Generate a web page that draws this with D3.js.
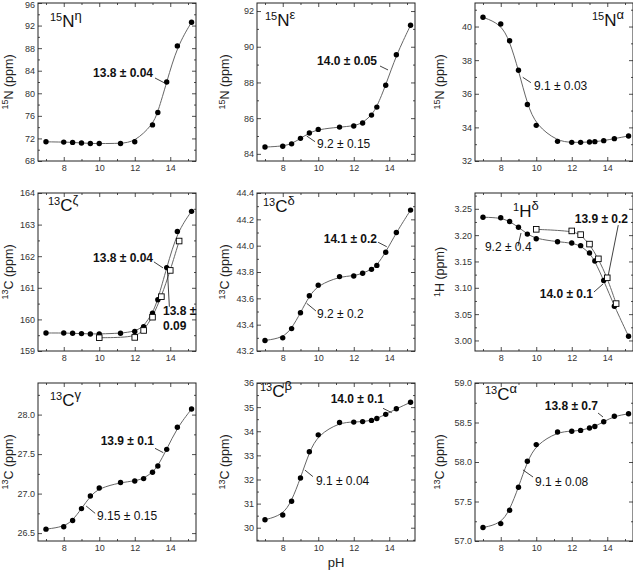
<!DOCTYPE html>
<html><head><meta charset="utf-8">
<script src="https://cdn.jsdelivr.net/npm/d3@7"></script>
<style>body{margin:0;background:#fff} svg{display:block} text{font-family:"Liberation Sans",Arial,sans-serif}</style>
</head><body>
<svg id="c" width="633" height="570"></svg>
<script>
// ---------- data ----------
const pH       = [7, 8, 8.5, 9, 9.5, 10, 11.2, 12, 12.5, 13, 13.3, 13.8, 14.4, 15.2];
const pH_Neta  = [7, 8, 8.5, 9, 9.5, 10, 11.2, 12, 13, 13.3, 13.8, 14.4, 15.2];
const pH_open  = [10, 12, 12.5, 13, 13.5, 14, 14.5];

const N_eta   = [71.4, 71.35, 71.3, 71.2, 71.1, 71.1, 71.1, 71.4, 74.4, 76.6, 82.0, 88.4, 92.6];
const N_eps   = [84.38, 84.43, 84.56, 84.87, 85.17, 85.37, 85.5, 85.56, 85.73, 86.17, 86.62, 87.84, 89.55, 91.2];
const N_alpha = [40.55, 40.15, 39.15, 37.4, 35.36, 34.12, 33.17, 33.11, 33.11, 33.13, 33.15, 33.21, 33.33, 33.49];
const C_zeta      = [159.57, 159.57, 159.56, 159.55, 159.54, 159.54, 159.56, 159.62, 159.77, 160.2, 160.62, 161.64, 162.78, 163.42];
const C_zeta_open = [159.42, 159.43, 159.65, 160.07, 160.72, 161.55, 162.48];
const C_delta = [43.28, 43.30, 43.37, 43.49, 43.62, 43.70, 43.765, 43.77, 43.79, 43.82, 43.85, 43.95, 44.10, 44.27];
const H_delta      = [3.234, 3.233, 3.226, 3.215, 3.202, 3.193, 3.1875, 3.185, 3.180, 3.166, 3.151, 3.114, 3.065, 3.008];
const H_delta_open = [3.211, 3.208, 3.201, 3.183, 3.155, 3.119, 3.070];
const C_gamma = [26.55, 26.58, 26.66, 26.81, 26.97, 27.07, 27.14, 27.16, 27.19, 27.27, 27.35, 27.56, 27.84, 28.07];
const C_beta  = [30.33, 30.53, 31.1, 32.06, 33.15, 33.85, 34.36, 34.38, 34.4, 34.45, 34.53, 34.7, 34.93, 35.2];
const C_alpha = [57.17, 57.22, 57.39, 57.68, 58.01, 58.22, 58.38, 58.39, 58.40, 58.43, 58.45, 58.51, 58.58, 58.61];

// ---------- ticks ----------
const xTicks = [8, 10, 12, 14];
const yTicks_N_eta   = [68, 72, 76, 80, 84, 88, 92, 96];
const yTicks_N_eps   = [84, 86, 88, 90, 92];
const yTicks_N_alpha = [32, 34, 36, 38, 40];
const yTicks_C_zeta  = [159, 160, 161, 162, 163, 164];
const yTicks_C_delta = [43.2, 43.4, 43.6, 43.8, 44.0, 44.2, 44.4];
const yTicks_H_delta = [3.00, 3.05, 3.10, 3.15, 3.20, 3.25];
const yTicks_C_gamma = [26.5, 27.0, 27.5, 28.0];
const yTicks_C_beta  = [30, 31, 32, 33, 34, 35, 36];
const yTicks_C_alpha = [57.0, 57.5, 58.0, 58.5, 59.0];

// ---------- panels ----------
const panels = [
  {title:["15","N","η"], tpos:[12,24], ylab:["15","N (ppm)"], xs:pH_Neta, ys:N_eta, dom:[68,96], ticks:yTicks_N_eta, fmt:"d",
   ann:[{t:["13.8 ± 0.04"], b:true, a:"end", at:[13.03,82.89], l:[[13.14,82.71],[13.65,81.88]]}]},
  {title:["15","N","ε"], tpos:[8,23], ylab:["15","N (ppm)"], xs:pH, ys:N_eps, dom:[83.6,92.45], ticks:yTicks_N_eps, fmt:"d",
   ann:[{t:["14.0 ± 0.05"], b:true, a:"end", at:[13.31,88.98], l:[[13.48,88.92],[13.93,88.70]]},
        {t:["9.2 ± 0.15"], b:false, a:"start", at:[9.93,84.33], l:[[9.82,84.68],[9.35,85.0]]}]},
  {title:["15","N","α"], tpos:[117,23], ylab:["15","N (ppm)"], xs:pH, ys:N_alpha, dom:[32,41.4], ticks:yTicks_N_alpha, fmt:"d",
   ann:[{t:["9.1 ± 0.03"], b:false, a:"start", at:[9.87,36.22], l:[[9.70,36.66],[9.24,36.98]]}]},
  {title:["13","C","ζ"], tpos:[10,18], ylab:["13","C (ppm)"], xs:pH, ys:C_zeta, oxs:pH_open, oys:C_zeta_open, dom:[159,164], ticks:yTicks_C_zeta, fmt:"d",
   ann:[{t:["13.8 ± 0.04"], b:true, a:"end", at:[13.03,161.82], l:[[13.08,161.82],[13.59,161.63]]},
        {t:["13.8 ±","0.09"], b:true, a:"start", at:[13.59,160.14], l:[[13.85,161.45],[13.95,160.4]]}]},
  {title:["13","C","δ"], tpos:[6,19], ylab:["13","C (ppm)"], xs:pH, ys:C_delta, dom:[43.2,44.4], ticks:yTicks_C_delta, fmt:".1f",
   ann:[{t:["14.1 ± 0.2"], b:true, a:"end", at:[13.31,44.023], l:[[13.37,44.026],[13.86,43.992]]},
        {t:["9.2 ± 0.2"], b:false, a:"start", at:[9.93,43.448], l:[[9.87,43.504],[9.35,43.562]]}]},
  {title:["1","H","δ"], tpos:[38,24], ylab:["1","H (ppm)"], xs:pH, ys:H_delta, oxs:pH_open, oys:H_delta_open, dom:[2.98,3.28], ticks:yTicks_H_delta, fmt:".2f",
   ann:[{t:["9.2 ± 0.4"], b:false, a:"start", at:[7.11,3.170], l:[[8.97,3.179],[9.14,3.204]]},
        {t:["13.9 ± 0.2"], b:true, a:"end", at:[15.17,3.2236], l:[[14.62,3.219],[14.06,3.1243]]},
        {t:["14.0 ± 0.1"], b:true, a:"end", at:[13.20,3.0812], l:[[13.25,3.092],[13.76,3.1072]]}]},
  {title:["13","C","γ"], tpos:[12,23], ylab:["13","C (ppm)"], xs:pH, ys:C_gamma, dom:[26.4,28.4], ticks:yTicks_C_gamma, fmt:".1f",
   ann:[{t:["13.9 ± 0.1"], b:true, a:"end", at:[13.08,27.615], l:[[13.14,27.573],[13.61,27.518]]},
        {t:["9.15 ± 0.15"], b:false, a:"start", at:[9.88,26.666], l:[[9.77,26.75],[9.26,26.843]]}]},
  {title:["13","C","β"], tpos:[3,14], ylab:["13","C (ppm)"], xs:pH, ys:C_beta, dom:[29.45,36], ticks:yTicks_C_beta, fmt:"d",
   ann:[{t:["14.0 ± 0.1"], b:true, a:"end", at:[13.70,35.18], l:[[13.65,34.95],[14.14,34.77]]},
        {t:["9.1 ± 0.04"], b:false, a:"start", at:[9.87,31.77], l:[[9.70,32.12],[9.25,32.39]]}]},
  {title:["13","C","α"], tpos:[10,17], ylab:["13","C (ppm)"], xs:pH, ys:C_alpha, dom:[57,59], ticks:yTicks_C_alpha, fmt:".1f",
   ann:[{t:["13.8 ± 0.7"], b:true, a:"end", at:[13.48,58.658], l:[[13.48,58.62],[13.76,58.57]]},
        {t:["9.1 ± 0.08"], b:false, a:"start", at:[9.93,57.70], l:[[9.82,57.81],[9.25,57.90]]}]}
];

// ---------- layout ----------
const svg = d3.select("#c");
const colL = [38, 257, 475], rowT = [3, 193, 383], W = 158, H = 158;
const ylabX = [12.5, 229, 444];
const xDomain = [6.55, 15.45];
const ink = "#222";

function minorOf(major, dom) {
  const s = major[1] - major[0], out = [];
  for (let v = major[0] - s / 2; v <= dom[1] + 1e-9; v += s) {
    if (v >= dom[0] - 1e-9) out.push(+v.toFixed(6));
  }
  return out.filter(v => !major.some(m => Math.abs(m - v) < 1e-9));
}

function styleAxis(sel) {
  sel.select(".domain").remove();
  sel.selectAll("line").attr("stroke", ink).attr("stroke-width", 0.8);
  sel.selectAll("text").attr("fill", "#333").attr("font-size", 9)
     .attr("font-family", '"Liberation Sans",Arial,sans-serif');
}

panels.forEach((p, i) => {
  const c = i % 3, r = Math.floor(i / 3);
  const L = colL[c], T = rowT[r];
  const g = svg.append("g").attr("transform", `translate(${L},${T})`);
  const x = d3.scaleLinear().domain(xDomain).range([0, W]);
  const y = d3.scaleLinear().domain(p.dom).range([H, 0]);
  const xMinor = minorOf(xTicks, xDomain);
  const yMinor = minorOf(p.ticks, p.dom);

  // axes (inward ticks on all sides)
  g.append("g").attr("transform", `translate(0,${H})`)
    .call(d3.axisBottom(x).tickValues(xTicks).tickSize(-4).tickPadding(3.5).tickFormat(d3.format("d"))).call(styleAxis);
  g.append("g").attr("transform", `translate(0,${H})`)
    .call(d3.axisBottom(x).tickValues(xMinor).tickSize(-2).tickFormat("")).call(styleAxis);
  g.append("g").call(d3.axisTop(x).tickValues(xTicks).tickSize(-4).tickFormat("")).call(styleAxis);
  g.append("g").call(d3.axisTop(x).tickValues(xMinor).tickSize(-2).tickFormat("")).call(styleAxis);
  const yax = g.append("g").call(d3.axisLeft(y).tickValues(p.ticks).tickSize(-4).tickPadding(3).tickFormat(d3.format(p.fmt))).call(styleAxis);
  yax.selectAll(".tick").each(function(d) {
    if (T + y(d) < 5) d3.select(this).select("text").attr("dy", "0.55em");
  });
  g.append("g").call(d3.axisLeft(y).tickValues(yMinor).tickSize(-2).tickFormat("")).call(styleAxis);
  g.append("g").attr("transform", `translate(${W},0)`)
    .call(d3.axisRight(y).tickValues(p.ticks).tickSize(-4).tickFormat("")).call(styleAxis);
  g.append("g").attr("transform", `translate(${W},0)`)
    .call(d3.axisRight(y).tickValues(yMinor).tickSize(-2).tickFormat("")).call(styleAxis);

  g.append("rect").attr("width", W).attr("height", H).attr("fill", "none").attr("stroke", ink).attr("stroke-width", 1);

  // smooth fit-like curve through the measured points
  const line = d3.line().x(d => x(d[0])).y(d => y(d[1])).curve(d3.curveBasis);
  const pts = p.xs.map((v, k) => [v, p.ys[k]]);
  g.append("path").attr("d", line(pts)).attr("fill", "none").attr("stroke", "#666").attr("stroke-width", 1);
  let opts = null;
  if (p.oxs) {
    opts = p.oxs.map((v, k) => [v, p.oys[k]]);
    g.append("path").attr("d", line(opts)).attr("fill", "none").attr("stroke", "#666").attr("stroke-width", 1);
  }

  // annotations
  p.ann.forEach(a => {
    g.append("line")
      .attr("x1", x(a.l[0][0])).attr("y1", y(a.l[0][1]))
      .attr("x2", x(a.l[1][0])).attr("y2", y(a.l[1][1]))
      .attr("stroke", "#111").attr("stroke-width", 0.8);
    const t = g.append("text").attr("x", x(a.at[0])).attr("y", y(a.at[1]))
      .attr("text-anchor", a.a).attr("font-size", 12).attr("fill", "#111")
      .attr("font-weight", a.b ? "bold" : "normal");
    a.t.forEach((s, k) => t.append("tspan").attr("x", x(a.at[0])).attr("dy", k === 0 ? 0 : 15).text(s));
  });

  // data marks
  g.selectAll("circle.f").data(pts).enter().append("circle")
    .attr("cx", d => x(d[0])).attr("cy", d => y(d[1])).attr("r", 2.7).attr("fill", "#000");
  if (opts) {
    g.selectAll("rect.o").data(opts).enter().append("rect")
      .attr("x", d => x(d[0]) - 2.8).attr("y", d => y(d[1]) - 2.8)
      .attr("width", 5.6).attr("height", 5.6).attr("fill", "#fff").attr("stroke", "#000").attr("stroke-width", 0.9);
  }

  // panel title
  const tt = g.append("text").attr("x", p.tpos[0]).attr("y", p.tpos[1]).attr("fill", "#111");
  tt.append("tspan").attr("font-size", 11).attr("dy", -6).text(p.title[0]);
  tt.append("tspan").attr("font-size", 17).attr("dy", 6).text(p.title[1]);
  tt.append("tspan").attr("font-size", 13).attr("dy", -7).text(p.title[2]);

  // y-axis label
  const yl = svg.append("text").attr("transform", `translate(${ylabX[c]},${T + H / 2}) rotate(-90)`)
    .attr("text-anchor", "middle").attr("fill", "#222");
  yl.append("tspan").attr("font-size", 9).attr("dy", -4.5).text(p.ylab[0]);
  yl.append("tspan").attr("font-size", 12.5).attr("dy", 4.5).text(p.ylab[1]);
});

// x-axis label
svg.append("text").attr("x", colL[1] + W / 2).attr("y", 567).attr("text-anchor", "middle")
  .attr("font-size", 13).attr("fill", "#222").text("pH");
</script>
</body></html>
